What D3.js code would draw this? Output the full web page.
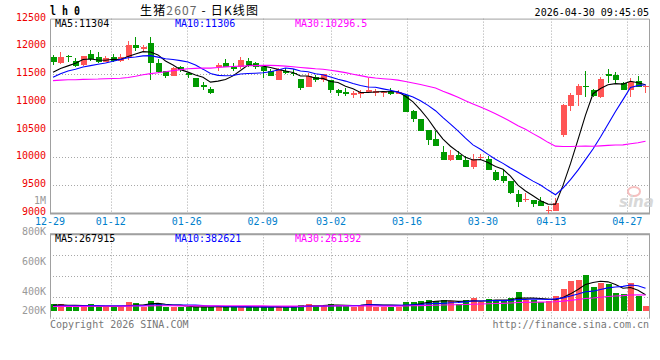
<!DOCTYPE html>
<html><head><meta charset="utf-8">
<script src="https://cdn.jsdelivr.net/npm/d3@7/dist/d3.min.js"></script>
<style>
html,body{margin:0;padding:0;background:#fff;}
svg{display:block;}
text{font-family:"DejaVu Sans Mono",monospace;}
</style></head><body>
<svg id="c" width="660" height="360"></svg>
<script>
// ---------- DATA ----------
const dates = ["12-29","12-30","12-31","01-05","01-06","01-07","01-08","01-09",
"01-12","01-13","01-14","01-15","01-16","01-19","01-20","01-21","01-22","01-23",
"01-26","01-27","01-28","01-29","01-30","02-02","02-03","02-04","02-05","02-06",
"02-09","02-10","02-11","02-12","02-13","02-24","02-25","02-26","02-27",
"03-02","03-03","03-04","03-05","03-06","03-09","03-10","03-11","03-12","03-13",
"03-16","03-17","03-18","03-19","03-20","03-23","03-24","03-25","03-26","03-27",
"03-30","03-31","04-01","04-02","04-03","04-07","04-08","04-09","04-10",
"04-13","04-14","04-15","04-16","04-17","04-20","04-21","04-22","04-23","04-24",
"04-27","04-28","04-29","04-30"];
const tickDates = ["12-29","01-12","01-26","02-09","03-02","03-16","03-30","04-13","04-27"];
const opens = [11815,11695,11832,11743,11671,11862,11803,11725,11803,11743,
11814,12024,11946,12066,11707,11563,11474,11623,11515,11437,
11306,11234,11635,11707,11635,11623,11737,11707,11635,11557,
11396,11563,11527,11414,11264,11456,11396,11396,11216,11175,
11139,11157,11187,11157,11169,11198,11145,11127,10828,10690,
10499,10337,10098,9961,10050,9961,9829,9985,9979,9740,
9662,9584,9351,9230,9230,9212,9032,9032,10409,10929,
11126,11288,11216,11085,11497,11485,11336,11216,11384,11264];
const highs = [11845,11898,11850,11785,11835,11934,11898,11832,11862,11862,
12096,12173,12018,12161,11766,11563,11623,11647,11545,11437,
11366,11276,11707,11773,11707,11815,11785,11725,11635,11587,
11605,11605,11587,11414,11515,11486,11503,11396,11228,11246,
11198,11216,11426,11228,11198,11246,11216,11127,10846,10690,
10499,10469,10200,10140,10110,10032,10068,10068,10032,9781,
9781,9584,9411,9361,9242,9283,9122,9273,10965,11168,
11318,11557,11228,11456,11593,11533,11366,11426,11468,11306];
const lows = [11670,11683,11713,11635,11647,11743,11695,11713,11719,11725,
11755,11922,11922,11396,11515,11437,11474,11545,11437,11270,
11216,11145,11563,11623,11563,11587,11623,11587,11426,11474,
11396,11497,11474,11216,11264,11366,11366,11168,11115,11109,
11079,11079,11187,11109,11097,11127,11139,10810,10631,10469,
10230,10212,9961,9943,9961,9823,9799,9961,9770,9584,
9542,9351,9106,9200,9110,9122,8990,9032,10361,10839,
10929,11097,11097,11067,11348,11336,11216,11097,11264,11157];
const closes = [11725,11815,11803,11653,11827,11767,11725,11785,11743,11803,
12024,11964,11994,11707,11545,11473,11605,11575,11485,11276,
11276,11168,11665,11635,11599,11755,11671,11635,11563,11474,
11587,11527,11497,11246,11474,11396,11503,11216,11157,11145,
11157,11175,11216,11198,11187,11139,11175,10810,10690,10469,
10319,10212,9961,10050,9961,9823,9973,10015,9770,9602,
9572,9363,9195,9254,9170,9122,9062,9182,10947,11126,
11294,11264,11109,11414,11467,11396,11216,11366,11276,11294];
const volumes = [115000,115000,70000,70000,70000,115000,70000,70000,70000,70000,
148000,131000,70000,164000,115000,70000,68000,66000,70000,66000,
70000,68000,72000,66000,70000,68000,66000,70000,66000,68000,
72000,66000,66000,98000,115000,82000,90000,108000,95000,95000,
68000,95000,178000,70000,70000,70000,70000,146000,148000,162000,
178000,164000,178000,164000,108000,180000,208000,148000,192000,176000,
178000,210000,310000,180000,180000,148000,170000,244000,358000,485000,
505000,588000,394000,462000,440000,290000,276000,456000,238000,80000];
// sessions before 12-29 (estimated from where the MA lines start)
const priorCloses = [11580,11620,11650,11610,11660,11640,11600,11630,11650,11660,
11250,11180,11100,11050,11000,10980,11020,11060,11040,11100,
11200,11290,11350,11420,11515,11480,11560,11420,11480];
const priorVolumes = [72000,76000,70000,78000,74000,80000,68000,75000,73000,77000,
71000,79000,74000,70000,76000,72000,78000,73000,75000,69000,
58000,62000,60000,64000,61000,80000,95000,85000,90000];
const priceTicks = [12500,12000,11500,11000,10500,10000,9500,9000];
const volTickLabels = ["800K","600K","400K","200K"];
const maPeriods = [5,10,30];
const maColors = ["#000000","#0000ff","#ff00ff"];
const priceMaLabels = ["MA5:11304","MA10:11306","MA30:10296.5"];
const volMaLabels = ["MA5:267915","MA10:382621","MA30:261392"];

// ---------- CHART ----------
const svg = d3.select("#c");
const L = 50, R = 649, PT = 18.6, PB = 213, VT = 234.3, VB = 317.7;
const xBand = d3.scaleBand().domain(dates).range([49.25, 649.25]).paddingInner(0.2).paddingOuter(0.1);
const xGrid = d3.scalePoint().domain(dates).range([50, 650]);
const yPrice = d3.scaleLinear().domain([9000, 12500]).range([PB, PT]);
const yVol = d3.scaleLinear().domain([0, 1000000]).range([311, 250]);
const cx = d => xBand(d) + xBand.bandwidth() / 2;
const UP = "#ff5555", DOWN = "#009a00", GRID = "#a8a8a8";

function movingAvg(prior, vals, n) {
  const all = prior.concat(vals), off = prior.length;
  return vals.map((v, i) => d3.mean(all.slice(off + i - n + 1, off + i + 1)));
}

// header
svg.append("text").attr("x", 50).attr("y", 15).attr("font-size", 12).attr("font-weight", "bold")
  .attr("textLength", 30).attr("lengthAdjust", "spacingAndGlyphs").text("l h 0");
const title = svg.append("text").attr("x", 140).attr("y", 15).attr("font-size", 12)
  .style("font-family", "'Noto Sans CJK SC', sans-serif").attr("textLength", 118);
title.append("tspan").text("生猪");
title.append("tspan").attr("fill", "#666").text("2607");
title.append("tspan").text(" - 日K线图");
svg.append("text").attr("x", 649).attr("y", 15.5).attr("font-size", 10).attr("text-anchor", "end")
  .text("2026-04-30 09:45:05");

// grids price panel
const gp = svg.append("g");
gp.selectAll("line.h").data(priceTicks.filter(v => v > 9000 && v < 12500)).join("line")
  .attr("x1", L).attr("x2", R).attr("y1", d => Math.round(yPrice(d)) + 0.5).attr("y2", d => Math.round(yPrice(d)) + 0.5)
  .attr("stroke", GRID).attr("stroke-dasharray", "1,2");
gp.selectAll("line.v").data(tickDates.slice(1)).join("line")
  .attr("x1", d => Math.round(xGrid(d)) + 0.5).attr("x2", d => Math.round(xGrid(d)) + 0.5)
  .attr("y1", PT).attr("y2", PB).attr("stroke", GRID).attr("stroke-dasharray", "1,2");
// grids volume panel
const volGridY = [1, 2, 3].map(k => VT + (VB - VT) * k / 4);
gp.selectAll("line.vh").data(volGridY).join("line")
  .attr("x1", L).attr("x2", R).attr("y1", d => Math.round(d) + 0.5).attr("y2", d => Math.round(d) + 0.5)
  .attr("stroke", GRID).attr("stroke-dasharray", "1,2");
gp.selectAll("line.vv").data(tickDates.slice(1)).join("line")
  .attr("x1", d => Math.round(xGrid(d)) + 0.5).attr("x2", d => Math.round(xGrid(d)) + 0.5)
  .attr("y1", VT).attr("y2", VB).attr("stroke", GRID).attr("stroke-dasharray", "1,2");
svg.append("line").attr("x1", L).attr("x2", R).attr("y1", VB + 0.5).attr("y2", VB + 0.5)
  .attr("stroke", GRID).attr("stroke-dasharray", "1,2");

// borders
const bc = "#a0a0a0";
svg.append("path").attr("d", `M${L + 0.5},${PB}V${PT + 0.5}H${R + 0.5}V${PB}`).attr("fill", "none").attr("stroke", bc);
svg.append("line").attr("x1", L).attr("x2", R + 1).attr("y1", PB + 0.5).attr("y2", PB + 0.5).attr("stroke", bc).attr("stroke-width", 2);
svg.append("path").attr("d", `M${L + 0.5},${VB}V${VT}H${R + 0.5}V${VB + 1}`).attr("fill", "none").attr("stroke", bc);
svg.append("line").attr("x1", L).attr("x2", R + 1).attr("y1", VT).attr("y2", VT).attr("stroke", bc).attr("stroke-width", 2);

// watermark
const wm = svg.append("g").attr("opacity", 0.8);
wm.append("ellipse").attr("cx", 634).attr("cy", 191.5).attr("rx", 6).attr("ry", 4.5)
  .attr("fill", "none").attr("stroke", "#f4b0b0").attr("stroke-width", 2);
wm.append("text").attr("x", 619).attr("y", 207).attr("font-size", 15).attr("font-style", "italic")
  .attr("font-weight", "bold").style("font-family", "'DejaVu Sans', sans-serif").attr("fill", "#cfcfcf").text("sina");

// price axis labels
svg.append("g").selectAll("text").data(priceTicks).join("text")
  .attr("x", 46).attr("y", d => yPrice(d) - 1.5).attr("dy", "0.35em").attr("text-anchor", "end")
  .attr("font-size", 10).attr("fill", "#ee0000").text(d => d);
svg.append("text").attr("x", 46).attr("y", 200.7).attr("dy", "0.35em").attr("text-anchor", "end")
  .attr("font-size", 10).attr("fill", "#999").text("1M");

// date labels
svg.append("g").selectAll("text").data(tickDates).join("text")
  .attr("x", d => xGrid(d)).attr("y", 221.5).attr("dy", "0.35em").attr("text-anchor", "middle")
  .attr("font-size", 10).attr("fill", "#0080cc").text(d => d);

// candles
const rows = dates.map((d, i) => ({d, o: opens[i], h: highs[i], l: lows[i], c: closes[i], v: volumes[i]}));
const cg = svg.append("g").attr("shape-rendering", "crispEdges");
cg.selectAll("rect.w").data(rows).join("rect")
  .attr("x", r => Math.floor(cx(r.d))).attr("width", 1)
  .attr("y", r => yPrice(r.h)).attr("height", r => Math.max(1, yPrice(r.l) - yPrice(r.h)))
  .attr("fill", r => r.c >= r.o ? UP : DOWN);
cg.selectAll("rect.b").data(rows).join("rect")
  .attr("x", r => Math.floor(cx(r.d)) - 2.5).attr("width", 6)
  .attr("y", r => yPrice(Math.max(r.o, r.c))).attr("height", r => Math.max(1.5, Math.abs(yPrice(r.o) - yPrice(r.c))))
  .attr("fill", r => r.c >= r.o ? UP : DOWN);

// volume bars
cg.selectAll("rect.v").data(rows).join("rect")
  .attr("x", r => Math.floor(cx(r.d)) - 2.5).attr("width", 6)
  .attr("y", r => yVol(r.v)).attr("height", r => yVol(0) - yVol(r.v))
  .attr("fill", r => r.c >= r.o ? UP : DOWN);

// MA lines
maPeriods.forEach((n, k) => {
  const pm = movingAvg(priorCloses, closes, n);
  svg.append("path").datum(pm).attr("fill", "none").attr("stroke", maColors[k]).attr("stroke-width", 1.1)
    .attr("d", d3.line().x((v, i) => cx(dates[i])).y(v => yPrice(v)));
  const vm = movingAvg(priorVolumes, volumes, n);
  svg.append("path").datum(vm).attr("fill", "none").attr("stroke", maColors[k]).attr("stroke-width", 1.1)
    .attr("d", d3.line().x((v, i) => cx(dates[i])).y(v => yVol(v)));
});

// legends
const legX = [55, 175, 295];
priceMaLabels.forEach((t, k) => svg.append("text").attr("x", legX[k]).attr("y", 27.3)
  .attr("font-size", 10).attr("fill", maColors[k]).text(t));
volMaLabels.forEach((t, k) => svg.append("text").attr("x", legX[k]).attr("y", 242.3)
  .attr("font-size", 10).attr("fill", maColors[k]).text(t));

// volume axis labels
const yVolLabel = d3.scalePoint().domain(volTickLabels).range([231, 321]);
svg.append("g").selectAll("text").data(volTickLabels).join("text")
  .attr("x", 46).attr("y", d => Math.min(310, yVolLabel(d))).attr("dy", "0.35em").attr("text-anchor", "end")
  .attr("font-size", 10).attr("fill", "#999").text(d => d);

// footer
svg.append("text").attr("x", 50).attr("y", 327.5).attr("font-size", 10).attr("fill", "#777").text("Copyright 2026 SINA.COM");
svg.append("text").attr("x", 649).attr("y", 327.5).attr("font-size", 10).attr("fill", "#777").attr("text-anchor", "end")
  .text("http://finance.sina.com.cn");
</script>
</body></html>
